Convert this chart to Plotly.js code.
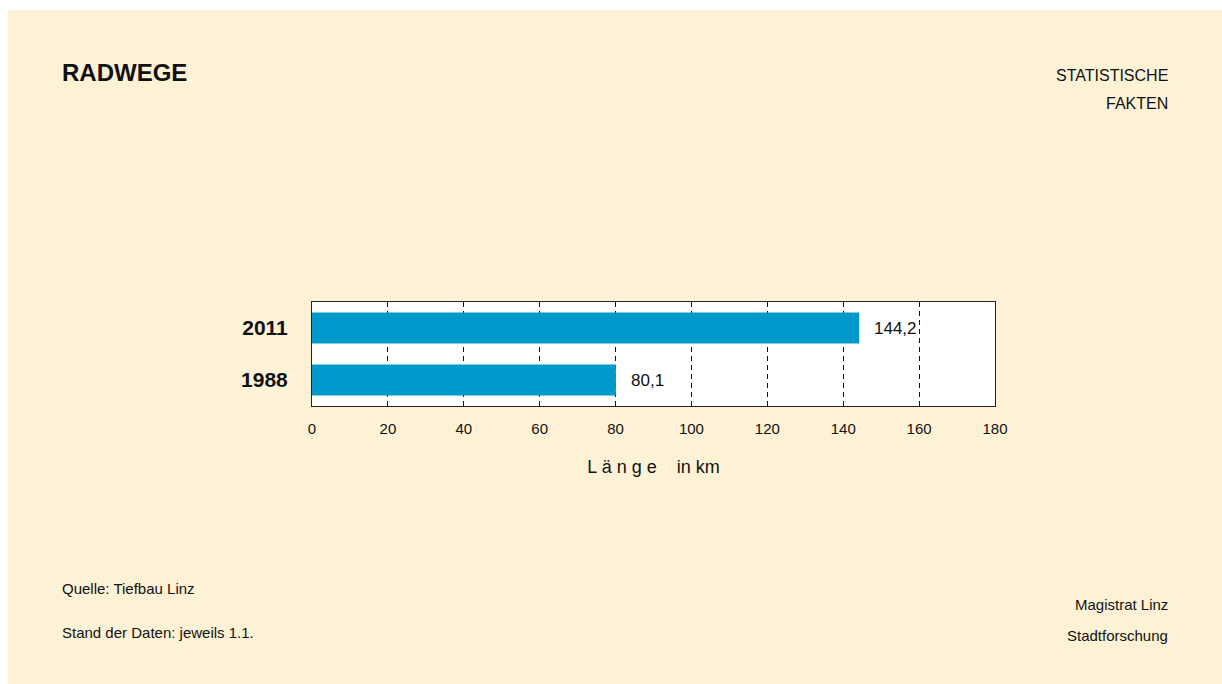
<!DOCTYPE html>
<html>
<head>
<meta charset="utf-8">
<script src="https://cdn.plot.ly/plotly-3.0.1.min.js"></script>
<style>
  html, body { margin: 0; padding: 0; background: #ffffff; }
  #chart { position: absolute; left: 8px; top: 10px; width: 1214px; height: 674px; }
</style>
</head>
<body>
<div id="chart"></div>
<script>
// ---- data ----
const years = ['1988', '2011'];
const laengeKm = [80.1, 144.2];
const xTickVals = [0, 20, 40, 60, 80, 100, 120, 140, 160, 180];
const titleText = 'RADWEGE';
const headerRight = ['STATISTISCHE', 'FAKTEN'];
const footerLeft = ['Quelle: Tiefbau Linz', 'Stand der Daten: jeweils 1.1.'];
const footerRight = ['Magistrat Linz', 'Stadtforschung'];
const axisTitle = 'L ä n g e&nbsp;&nbsp;&nbsp; in km';

// ---- layout geometry (div coords) ----
const W = 1214, H = 674;
const M = { l: 304, r: 227, t: 292, b: 278 };
const PW = W - M.l - M.r, PH = H - M.t - M.b;
const px = x => (x - M.l) / PW;           // pixel -> paper x
const py = y => 1 - (y - M.t) / PH;       // pixel -> paper y

const textColor = '#111111';
const fontFam = '"Liberation Sans", Arial, sans-serif';

const fmt = v => v.toFixed(1).replace('.', ',');

const annotations = [];
function addText(text, x, y, anchor, size, bold) {
  annotations.push({
    text: bold ? '<b>' + text + '</b>' : text,
    xref: 'paper', yref: 'paper',
    x: px(x), y: py(y), xanchor: anchor, yanchor: 'middle',
    showarrow: false,
    font: { family: fontFam, size: size, color: textColor }
  });
}
addText(titleText, 52, 62, 'left', 24, true);
addText(headerRight[0], 1162, 65, 'right', 16, false);
addText(headerRight[1], 1162, 93, 'right', 16, false);
addText(footerLeft[0], 52, 578, 'left', 15, false);
addText(footerLeft[1], 52, 622, 'left', 15, false);
addText(footerRight[0], 1162, 594, 'right', 15, false);
addText(footerRight[1], 1162, 625, 'right', 15, false);

// value labels next to bars (category index on y)
laengeKm.forEach((v, i) => {
  annotations.push({
    text: fmt(v),
    x: v, y: i, xref: 'x', yref: 'y',
    xanchor: 'left', yanchor: 'middle', xshift: 13,
    showarrow: false,
    font: { family: fontFam, size: 17, color: textColor }
  });
});

const trace = {
  type: 'bar',
  orientation: 'h',
  x: laengeKm,
  y: years,
  marker: { color: '#0099cc', line: { width: 0 } },
  hoverinfo: 'skip'
};

const layout = {
  width: W, height: H,
  margin: M,
  paper_bgcolor: '#fef2d6',
  plot_bgcolor: '#ffffff',
  showlegend: false,
  bargap: 0.4,
  xaxis: {
    range: [0, 180],
    tickvals: xTickVals,
    ticktext: xTickVals.map(String),
    showgrid: true,
    gridcolor: '#111111',
    gridwidth: 1,
    griddash: '5px,4px',
    zeroline: false,
    showline: true, linecolor: '#222222', linewidth: 1, mirror: true,
    ticks: 'outside', ticklen: 9, tickcolor: 'rgba(0,0,0,0)',
    tickfont: { family: fontFam, size: 15, color: textColor },
    title: { text: axisTitle, standoff: 24, font: { family: fontFam, size: 18, color: textColor } },
    automargin: false,
    fixedrange: true
  },
  yaxis: {
    type: 'category',
    range: [-0.5, 1.5],
    showgrid: false,
    zeroline: false,
    showline: true, linecolor: '#222222', linewidth: 1, mirror: true,
    ticks: 'outside', ticklen: 19, tickcolor: 'rgba(0,0,0,0)',
    tickfont: { family: fontFam, size: 21, color: textColor, weight: 'bold' },
    automargin: false,
    fixedrange: true
  },
  annotations: annotations
};

Plotly.newPlot('chart', [trace], layout, { displayModeBar: false, staticPlot: true });
</script>
</body>
</html>
